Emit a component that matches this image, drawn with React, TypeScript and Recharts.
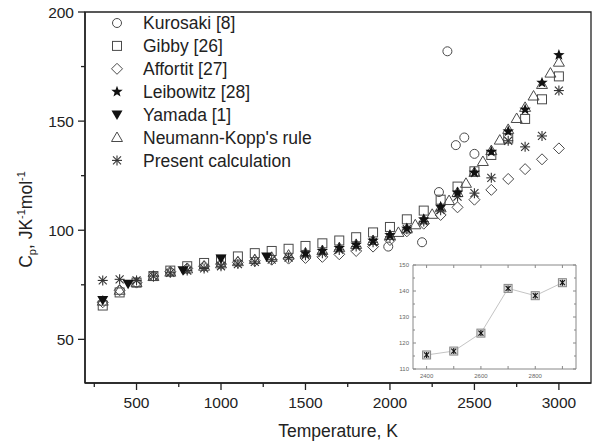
import {
  Legend,
  Line,
  LineChart,
  ReferenceArea,
  Scatter,
  ScatterChart,
  XAxis,
  YAxis,
} from "recharts";

// main plot: Cp vs temperature
const xTicks = [250, 500, 750, 1000, 1250, 1500, 1750, 2000, 2250, 2500, 2750, 3000];
const yTicks = [50, 75, 100, 125, 150, 175, 200];

const kurosakiT = [1990, 2190, 2290, 2340, 2390, 2440, 2500];
const kurosakiCp = [92.5, 94.5, 117.5, 182, 139, 142.5, 135];

const gibbyT = [300, 400, 500, 600, 700, 800, 900, 1000, 1100, 1200, 1300, 1400, 1500, 1600, 1700, 1800, 1900, 2000, 2100, 2200, 2300, 2400, 2500, 2600, 2700, 2800, 2900, 3000];
const gibbyCp = [65.5, 71.5, 76, 79, 81.5, 83.5, 85, 86.5, 88, 89.5, 90.5, 91.5, 92.8, 94, 95.3, 96.8, 99, 101.5, 105, 109, 114, 120, 127, 134.5, 142, 151, 160, 170.5];

const affortitT = [300, 400, 500, 600, 700, 800, 900, 1000, 1100, 1200, 1300, 1400, 1500, 1600, 1700, 1800, 1900, 2000, 2100, 2200, 2300, 2400, 2500, 2600, 2700, 2800, 2900, 3000];
const affortitCp = [67, 72.5, 76, 79, 81, 82.5, 83.5, 84.5, 85.3, 86, 86.5, 87, 87.3, 87.8, 89, 90.5, 92.5, 95.5, 99.5, 103, 107, 110.5, 114, 118.5, 123.5, 128, 132.5, 137.5];

const leibowitzT = [1500, 1600, 1700, 1800, 1900, 2000, 2100, 2200, 2300, 2400, 2500, 2600, 2700, 2800, 2900, 3000];
const leibowitzCp = [89.5, 90.6, 91.9, 93.4, 95.2, 97.8, 100.8, 105, 110.8, 117.3, 126.4, 136, 145.3, 155.3, 167.6, 180.3];

const yamadaT = [300, 450, 775, 1000, 1270];
const yamadaCp = [68, 75.5, 81.7, 87, 88];

const neumannT = [300, 400, 500, 600, 700, 800, 900, 1000, 1100, 1200, 1300, 1400, 1500, 1600, 1700, 1800, 1900, 2000, 2050, 2100, 2150, 2200, 2250, 2300, 2350, 2400, 2450, 2500, 2550, 2600, 2650, 2700, 2750, 2800, 2850, 2900, 2950, 3000];
const neumannCp = [67.5, 72.5, 76, 78.8, 80.8, 82.3, 83.5, 84.6, 85.6, 86.6, 87.6, 88.6, 89.6, 90.7, 92, 93.5, 95.3, 97.6, 99, 100.6, 102.5, 104.8, 107.3, 110.3, 113.6, 117.3, 121.5, 126.5, 131.5, 136.5, 141.3, 146.2, 151.2, 156.3, 161.5, 166.8, 172, 177];

const presentT = [300, 400, 500, 600, 700, 800, 900, 1000, 1100, 1200, 1300, 1400, 1500, 1600, 1700, 1800, 1900, 2000, 2100, 2200, 2300, 2400, 2500, 2600, 2700, 2800, 2900, 3000];
const presentCp = [77, 77.5, 77, 79, 80.5, 81.5, 82.5, 83.5, 84.5, 85.5, 86.5, 87.5, 88.5, 89.5, 91, 92.5, 94.5, 97, 100.5, 104, 109.2, 115.4, 117, 124, 141, 138.2, 143.2, 164];

// inset
const insetT = [2400, 2500, 2600, 2700, 2800, 2900];
const insetCp = [115.4, 116.9, 123.8, 141, 138.2, 143.2];
const insetXTicks = [2400, 2500, 2600, 2700, 2800, 2900];
const insetYTicks = [110, 115, 120, 125, 130, 135, 140, 145, 150];

const pts = (ts: number[], cs: number[]) => ts.map((t, i) => ({ t, cp: cs[i] }));

type Kind = "circle" | "square" | "diamond" | "star" | "down" | "up" | "aster";

function Marker({ kind, cx, cy }: { kind: Kind; cx: number; cy: number }) {
  const gray = "#4a4a4a";
  switch (kind) {
    case "circle":
      return <circle cx={cx} cy={cy} r={4.5} fill="none" stroke={gray} strokeWidth={1} />;
    case "square":
      return <rect x={cx - 4.5} y={cy - 4.5} width={9} height={9} fill="none" stroke={gray} strokeWidth={1} />;
    case "diamond":
      return (
        <path
          d={`M${cx},${cy - 5.5}L${cx + 5.5},${cy}L${cx},${cy + 5.5}L${cx - 5.5},${cy}Z`}
          fill="none"
          stroke={gray}
          strokeWidth={1}
        />
      );
    case "up":
      return (
        <path
          d={`M${cx},${cy - 5.5}L${cx + 5.5},${cy + 4}L${cx - 5.5},${cy + 4}Z`}
          fill="none"
          stroke={gray}
          strokeWidth={1}
        />
      );
    case "down":
      return <path d={`M${cx - 5.5},${cy - 4}L${cx + 5.5},${cy - 4}L${cx},${cy + 5.5}Z`} fill="#111" />;
    case "star": {
      let d = "";
      for (let k = 0; k < 10; k++) {
        const r = k % 2 === 0 ? 6 : 2.5;
        const a = -Math.PI / 2 + (k * Math.PI) / 5;
        d += `${k === 0 ? "M" : "L"}${cx + r * Math.cos(a)},${cy + r * Math.sin(a)}`;
      }
      return <path d={d + "Z"} fill="#111" />;
    }
    case "aster":
      return (
        <g stroke="#333" strokeWidth={1.1}>
          <line x1={cx - 4} y1={cy - 4} x2={cx + 4} y2={cy + 4} />
          <line x1={cx - 4} y1={cy + 4} x2={cx + 4} y2={cy - 4} />
          <line x1={cx} y1={cy - 5} x2={cx} y2={cy + 5} />
          <line x1={cx - 5} y1={cy} x2={cx + 5} y2={cy} />
        </g>
      );
  }
  return null;
}

const series: { name: string; kind: Kind; data: { t: number; cp: number }[] }[] = [
  { name: "Kurosaki [8]", kind: "circle", data: pts(kurosakiT, kurosakiCp) },
  { name: "Gibby [26]", kind: "square", data: pts(gibbyT, gibbyCp) },
  { name: "Affortit [27]", kind: "diamond", data: pts(affortitT, affortitCp) },
  { name: "Leibowitz [28]", kind: "star", data: pts(leibowitzT, leibowitzCp) },
  { name: "Yamada [1]", kind: "down", data: pts(yamadaT, yamadaCp) },
  { name: "Neumann-Kopp's rule", kind: "up", data: pts(neumannT, neumannCp) },
  { name: "Present calculation", kind: "aster", data: pts(presentT, presentCp) },
];

// drawing order: open symbols first, filled on top
const drawOrder = [1, 2, 5, 0, 6, 3, 4];

const FONT = "'Liberation Sans', Arial, sans-serif";
const INK = "#222";

const BottomTick = (p: any) => {
  const v = p.payload.value;
  const major = v % 500 === 0;
  return (
    <g>
      <line x1={p.x} x2={p.x} y1={p.y} y2={p.y + (major ? 7 : 4)} stroke={INK} strokeWidth={1.3} />
      {major && (
        <text x={p.x} y={p.y + 25} textAnchor="middle" fontSize={15.5} fill={INK} fontFamily={FONT}>
          {v}
        </text>
      )}
    </g>
  );
};

const LeftTick = (p: any) => {
  const v = p.payload.value;
  const major = v % 50 === 0;
  return (
    <g>
      <line x1={p.x - (major ? 7 : 4)} x2={p.x} y1={p.y} y2={p.y} stroke={INK} strokeWidth={1.3} />
      {major && (
        <text x={p.x - 11} y={p.y} dy="0.36em" textAnchor="end" fontSize={15.5} fill={INK} fontFamily={FONT}>
          {v}
        </text>
      )}
    </g>
  );
};

const XLabel = (p: any) => {
  const vb = p.viewBox;
  return (
    <text x={vb.x + vb.width / 2} y={vb.y + 54} textAnchor="middle" fontSize={17.5} fill={INK} fontFamily={FONT}>
      Temperature, K
    </text>
  );
};

const YLabel = (p: any) => {
  const vb = p.viewBox;
  const x = vb.x + vb.width - 53;
  const y = vb.y + vb.height / 2 + 22;
  return (
    <text
      x={x}
      y={y}
      transform={`rotate(-90 ${x} ${y})`}
      textAnchor="middle"
      fontSize={17.5}
      fill={INK}
      fontFamily={FONT}
    >
      C
      <tspan fontSize={11} dy={4}>p</tspan>
      <tspan dy={-4}>, JK</tspan>
      <tspan fontSize={11} dy={-7}>-1</tspan>
      <tspan dy={7}>mol</tspan>
      <tspan fontSize={11} dy={-7}>-1</tspan>
    </text>
  );
};

const InsetBottomTick = (p: any) => {
  const v = p.payload.value;
  return (
    <g>
      <line x1={p.x} x2={p.x} y1={p.y} y2={p.y - 3} stroke="#888" />
      {v % 200 === 0 && (
        <text x={p.x} y={p.y + 9} textAnchor="middle" fontSize={6} fill="#666" fontFamily={FONT}>
          {v}
        </text>
      )}
    </g>
  );
};

const InsetTopTick = (p: any) => (
  <line x1={p.x} x2={p.x} y1={p.y} y2={p.y + 3} stroke="#888" />
);

const InsetLeftTick = (p: any) => {
  const v = p.payload.value;
  const major = v % 10 === 0;
  return (
    <g>
      <line x1={p.x} x2={p.x + (major ? 3 : 2)} y1={p.y} y2={p.y} stroke="#888" />
      {major && (
        <text x={p.x - 4} y={p.y} dy="0.35em" textAnchor="end" fontSize={6} fill="#666" fontFamily={FONT}>
          {v}
        </text>
      )}
    </g>
  );
};

const InsetRightTick = (p: any) => {
  const major = p.payload.value % 10 === 0;
  return <line x1={p.x - (major ? 3 : 2)} x2={p.x} y1={p.y} y2={p.y} stroke="#888" />;
};

const InsetDot = (p: any) => {
  const { cx, cy } = p;
  if (cx == null || cy == null) return null;
  return (
    <g>
      <rect x={cx - 4} y={cy - 4} width={8} height={8} fill="#ddd" stroke="#888" strokeWidth={1} />
      <g stroke="#111" strokeWidth={1.1}>
        <line x1={cx - 2.5} y1={cy - 2.5} x2={cx + 2.5} y2={cy + 2.5} />
        <line x1={cx - 2.5} y1={cy + 2.5} x2={cx + 2.5} y2={cy - 2.5} />
        <line x1={cx} y1={cy - 3} x2={cx} y2={cy + 3} />
      </g>
    </g>
  );
};

export default function App() {
  const insetData = pts(insetT, insetCp);
  return (
    <div style={{ position: "relative", width: 592, height: 443, background: "#fff", fontFamily: FONT }}>
      <style>{`body{margin:0}`}</style>
      <ScatterChart width={592} height={443} margin={{ top: 12, right: 1, bottom: 59, left: 84 }}>
        <XAxis
          type="number"
          dataKey="t"
          domain={[195, 3190]}
          allowDataOverflow
          ticks={xTicks}
          interval={0}
          height={1}
          tickSize={0}
          tickMargin={0}
          tick={(p: any) => <BottomTick {...p} />}
          axisLine={{ stroke: INK, strokeWidth: 1.5 }}
          label={<XLabel />}
        />
        <YAxis
          type="number"
          dataKey="cp"
          domain={[30, 200]}
          allowDataOverflow
          ticks={yTicks}
          interval={0}
          width={1}
          tickSize={0}
          tickMargin={0}
          tick={(p: any) => <LeftTick {...p} />}
          axisLine={{ stroke: INK, strokeWidth: 1.5 }}
          label={<YLabel />}
        />
        <ReferenceArea
          x1={195}
          x2={3190}
          y1={30}
          y2={200}
          fill="none"
          stroke={INK}
          strokeWidth={1.3}
          ifOverflow="visible"
        />
        {drawOrder.map((i) => {
          const s = series[i];
          return (
            <Scatter
              key={s.name}
              name={s.name}
              data={s.data}
              isAnimationActive={false}
              shape={(p: any) => <Marker kind={s.kind} cx={p.cx} cy={p.cy} />}
            />
          );
        })}
        <Legend
          layout="horizontal"
          verticalAlign="middle"
          align="center"
          wrapperStyle={{ left: 0, top: 0, width: 320, height: 175 }}
          content={() => (
            <svg width={320} height={175}>
              {series.map((s, i) => (
                <g key={s.name}>
                  <Marker kind={s.kind} cx={117} cy={23 + i * 22.9} />
                  <text x={143} y={23 + i * 22.9 + 6.3} fontSize={17.5} fill={INK} fontFamily={FONT}>
                    {s.name}
                  </text>
                </g>
              ))}
            </svg>
          )}
        />
      </ScatterChart>

      <div style={{ position: "absolute", left: 390, top: 255 }}>
        <LineChart width={190} height={130} data={insetData} margin={{ top: 9, right: 3, bottom: 15, left: 22 }}>
          <XAxis
            type="number"
            dataKey="t"
            domain={[2350, 2950]}
            allowDataOverflow
            ticks={insetXTicks}
            interval={0}
            height={1}
            tickSize={0}
            tickMargin={0}
            tick={(p: any) => <InsetBottomTick {...p} />}
            axisLine={{ stroke: "#888" }}
          />
          <XAxis
            xAxisId="top"
            orientation="top"
            type="number"
            dataKey="t"
            domain={[2350, 2950]}
            allowDataOverflow
            ticks={insetXTicks}
            interval={0}
            height={1}
            tickSize={0}
            tickMargin={0}
            tick={(p: any) => <InsetTopTick {...p} />}
            axisLine={{ stroke: "#888" }}
          />
          <YAxis
            type="number"
            domain={[110, 150]}
            allowDataOverflow
            ticks={insetYTicks}
            interval={0}
            width={1}
            tickSize={0}
            tickMargin={0}
            tick={(p: any) => <InsetLeftTick {...p} />}
            axisLine={{ stroke: "#888" }}
          />
          <YAxis
            yAxisId="right"
            orientation="right"
            type="number"
            domain={[110, 150]}
            allowDataOverflow
            ticks={insetYTicks}
            interval={0}
            width={1}
            tickSize={0}
            tickMargin={0}
            tick={(p: any) => <InsetRightTick {...p} />}
            axisLine={{ stroke: "#888" }}
          />
          <Line
            dataKey="cp"
            stroke="#c4c4c4"
            strokeWidth={1}
            dot={(p: any) => <InsetDot key={p.index} {...p} />}
            isAnimationActive={false}
          />
        </LineChart>
      </div>
    </div>
  );
}
